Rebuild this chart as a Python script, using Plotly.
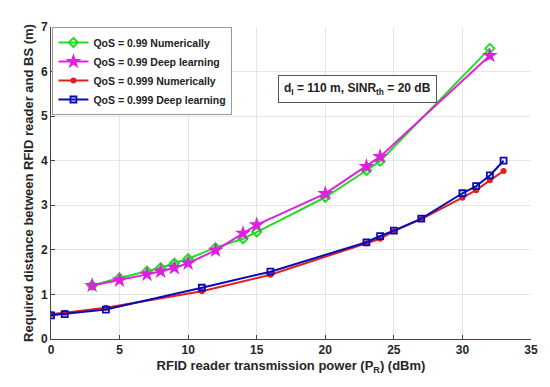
import plotly.graph_objects as go

x_99 = [3, 5, 7, 8, 9, 10, 12, 14, 15, 20, 23, 24, 32]
num_99 = [1.20, 1.37, 1.52, 1.60, 1.70, 1.80, 2.05, 2.25, 2.40, 3.18, 3.78, 3.99, 6.52]
dl_99 = [1.20, 1.32, 1.45, 1.52, 1.60, 1.70, 1.99, 2.37, 2.56, 3.26, 3.87, 4.09, 6.36]

x_999 = [0, 1, 4, 11, 16, 23, 24, 25, 27, 30, 31, 32, 33]
num_999 = [0.56, 0.59, 0.70, 1.07, 1.44, 2.15, 2.25, 2.42, 2.69, 3.17, 3.34, 3.56, 3.77]
dl_999 = [0.53, 0.56, 0.66, 1.15, 1.51, 2.17, 2.31, 2.43, 2.70, 3.27, 3.43, 3.67, 4.00]

FONT = "Liberation Sans, Arial, sans-serif"

fig = go.Figure()
fig.add_trace(go.Scatter(x=x_99, y=num_99, mode="lines+markers",
                         name="<b>QoS = 0.99 Numerically</b>",
                         line=dict(color="#22dd22", width=2),
                         marker=dict(symbol="diamond-open", size=7, color="#22dd22", line=dict(width=2))))
fig.add_trace(go.Scatter(x=x_99, y=dl_99, mode="lines+markers",
                         name="<b>QoS = 0.99 Deep learning</b>",
                         line=dict(color="#e020e0", width=2),
                         marker=dict(symbol="star", size=12, color="#e020e0")))
fig.add_trace(go.Scatter(x=x_999, y=num_999, mode="lines+markers",
                         name="<b>QoS = 0.999 Numerically</b>",
                         line=dict(color="#e02020", width=2),
                         marker=dict(symbol="circle", size=6, color="#e02020")))
fig.add_trace(go.Scatter(x=x_999, y=dl_999, mode="lines+markers",
                         name="<b>QoS = 0.999 Deep learning</b>",
                         line=dict(color="#0a0ab4", width=2),
                         marker=dict(symbol="square-open", size=6, color="#0a0ab4", line=dict(width=1.8))))

# plot area: x 51..534, y 24..339 in page pixels (page body has 8px margin)
fig.add_annotation(x=(359 - 51) / 483, y=(339 - 72.5) / 315, xref="paper", yref="paper",
                   text="<b>d<sub>I</sub> = 110 m, SINR<sub>th</sub> = 20 dB</b>",
                   showarrow=False, font=dict(family=FONT, size=12, color="#222"),
                   bordercolor="#555", borderwidth=1, borderpad=5, bgcolor="white")

axis_font = dict(family=FONT, size=12, color="#262626", weight="bold")

fig.update_layout(
    width=542, height=379,
    margin=dict(l=43, r=16, t=16, b=48),
    plot_bgcolor="white", paper_bgcolor="white",
    font=dict(family=FONT, size=11, color="#262626"),
    showlegend=True,
    legend=dict(x=0.003, y=1, xanchor="left", yanchor="top",
                bordercolor="#999", borderwidth=1, bgcolor="white",
                font=dict(family=FONT, size=10.5, color="#222"),
                tracegroupgap=0, itemwidth=30),
    xaxis=dict(range=[0, 35], dtick=5, showgrid=True, gridcolor="#e6e6e6",
               showline=True, linecolor="#444", linewidth=1, ticks="inside", ticklen=4,
               tickcolor="#444", tickfont=axis_font,
               title=dict(text="<b>RFID reader transmission power (P<sub>R</sub>) (dBm)</b>",
                          font=dict(family=FONT, size=13, color="#262626"), standoff=4),
               zeroline=False),
    yaxis=dict(range=[0, 7], dtick=1, showgrid=True, gridcolor="#e6e6e6",
               showline=True, linecolor="#444", linewidth=1, ticks="inside", ticklen=4,
               tickcolor="#444", tickfont=axis_font,
               title=dict(text="<b>Required distance between RFID reader and BS (m)</b>",
                          font=dict(family=FONT, size=13, color="#262626"), standoff=4),
               zeroline=False),
)

fig.write_html("out.html")
